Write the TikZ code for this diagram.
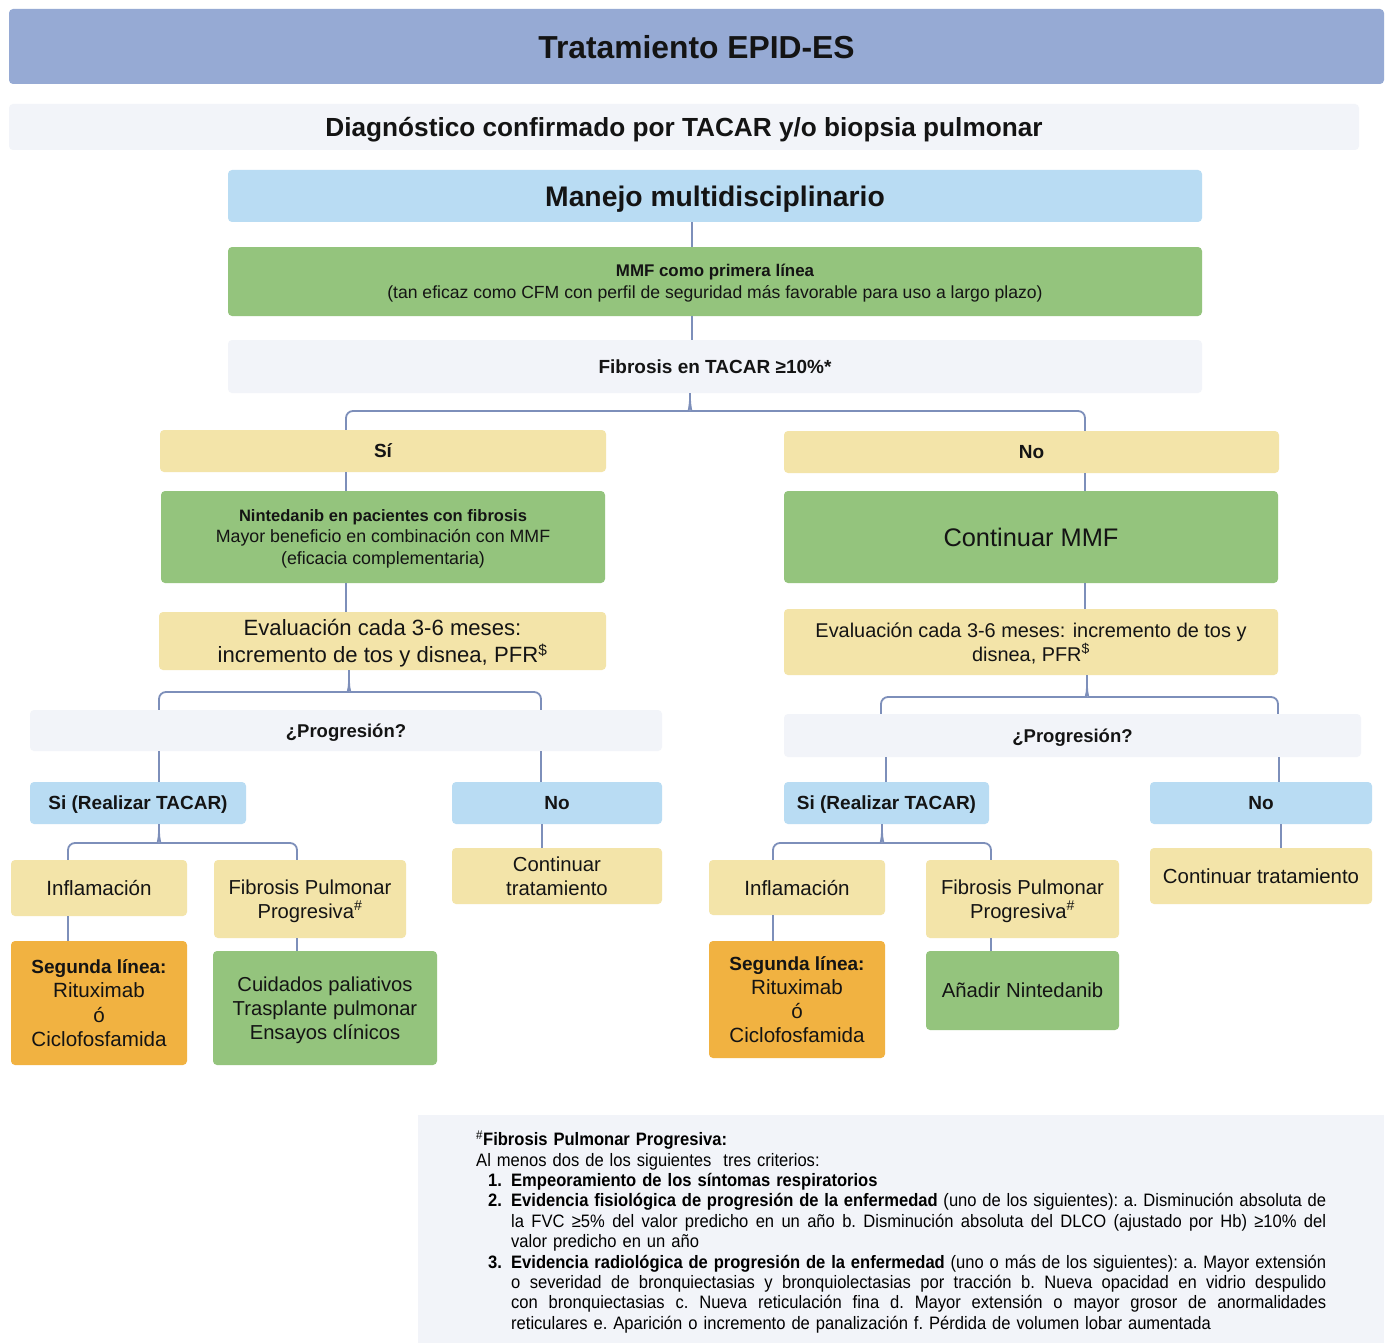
\documentclass[tikz,border=0pt]{standalone}
\usepackage{fontspec}
\setmainfont{Liberation Sans}
\newfontfamily\fnfont[FakeStretch=0.92]{Liberation Sans}
\usetikzlibrary{calc}
\definecolor{titlec}{RGB}{150,170,212}
\definecolor{grayc}{RGB}{242,244,249}
\definecolor{bluec}{RGB}{185,220,243}
\definecolor{greenc}{RGB}{148,196,125}
\definecolor{yellowc}{RGB}{243,228,169}
\definecolor{orangec}{RGB}{241,178,65}
\definecolor{linec}{RGB}{125,143,186}
\newcommand{\fsz}[2]{\fontsize{#1}{#2}\selectfont}
\newcommand{\jline}[1]{\hbox to 815pt{\spaceskip=\fontdimen2\font plus 1fil\relax #1}}
\tikzset{
  box/.style={rounded corners=4pt, inner sep=0pt, align=center, text=black!92, text depth=0pt},
  conn/.style={draw=linec, line width=1.8pt, rounded corners=7pt},
  tipline/.style={draw=linec, line width=1.8pt},
}
\begin{document}
\begin{tikzpicture}[x=1pt,y=-1pt]
\useasboundingbox[fill=white] (0,0) rectangle (1392,1343);
% x positions
\foreach \n/\v in {A/692,B/690,C/346,D/1085,E/349,F/159,G/541,H/1087,I/881,J/1278,K/886,L/1279,M/68,N/297,O/773,P/991,Q/542,R/1281,S/882}
  {\coordinate (X\n) at (\v,0);}
% header
\node[box, fill=titlec, minimum width=1375, minimum height=75, font=\bfseries\fsz{31.8}{36}] (title) at (696.5,46.5) {Tratamiento EPID-ES};
\node[box, fill=grayc, minimum width=1350, minimum height=46, font=\bfseries\fsz{26.2}{30}] (diag) at (684,127) {Diagnóstico confirmado por TACAR y/o biopsia pulmonar};
\node[box, fill=bluec, minimum width=974, minimum height=52, font=\bfseries\fsz{28.3}{32}] (manejo) at (715,196) {Manejo multidisciplinario};
\node[box, fill=greenc, minimum width=974, minimum height=69, font=\fsz{17.6}{22}] (mmf) at (715,281.5) {{\bfseries\fsz{16.9}{22}MMF como primera línea}\\(tan eficaz como CFM con perfil de seguridad más favorable para uso a largo plazo)};
\node[box, fill=grayc, minimum width=974, minimum height=53, font=\bfseries\fsz{19}{23}] (fib) at (715,366.5) {Fibrosis en TACAR ≥10\%*};
% Si / No
\node[box, fill=yellowc, minimum width=446, minimum height=42, font=\bfseries\fsz{19}{23}] (si) at (383,451) {Sí};
\node[box, fill=yellowc, minimum width=495, minimum height=42, font=\bfseries\fsz{19}{23}] (no) at (1031.5,452) {No};
\node[box, fill=greenc, minimum width=444, minimum height=92, font=\fsz{17.8}{21.5}] (nint) at (383,537) {{\bfseries\fsz{16.5}{21.5}Nintedanib en pacientes con fibrosis}\\Mayor beneficio en combinación con MMF\\(eficacia complementaria)};
\node[box, fill=greenc, minimum width=494, minimum height=92, font=\fsz{25.4}{28}] (cmmf) at (1031,537) {Continuar MMF};
\node[box, fill=yellowc, minimum width=447, minimum height=58, font=\fsz{22.1}{27}] (evalL) at (382.5,641) {Evaluación cada 3-6 meses:\\incremento de tos y disnea, PFR\textsuperscript{\$}};
\node[box, fill=yellowc, minimum width=494, minimum height=66, font=\fsz{19.9}{24}] (evalR) at (1031,642) {Evaluación cada 3-6 meses: incremento de tos y\\disnea, PFR\textsuperscript{\$}};
% Progresion
\node[box, fill=grayc, minimum width=632, minimum height=41, font=\bfseries\fsz{18.5}{23}] (progL) at (346,730.5) {¿Progresión?};
\node[box, fill=grayc, minimum width=577, minimum height=43, font=\bfseries\fsz{18.5}{23}] (progR) at (1072.5,735.5) {¿Progresión?};
\node[box, fill=bluec, minimum width=216, minimum height=42, font=\bfseries\fsz{19}{23}] (siL) at (138,803) {Si (Realizar TACAR)};
\node[box, fill=bluec, minimum width=210, minimum height=42, font=\bfseries\fsz{19}{23}] (noL) at (557,803) {No};
\node[box, fill=bluec, minimum width=205, minimum height=42, font=\bfseries\fsz{19}{23}] (siR) at (886.5,803) {Si (Realizar TACAR)};
\node[box, fill=bluec, minimum width=222, minimum height=42, font=\bfseries\fsz{19}{23}] (noR) at (1261,803) {No};
% lower level left
\node[box, fill=yellowc, minimum width=176, minimum height=56, font=\fsz{20.6}{24}] (inflL) at (99,888) {Inflamación};
\node[box, fill=yellowc, minimum width=192, minimum height=78, font=\fsz{20.2}{24}] (fppL) at (310,899) {Fibrosis Pulmonar\\Progresiva\textsuperscript{\#}};
\node[box, fill=yellowc, minimum width=210, minimum height=56, font=\fsz{20.3}{24}] (ctL) at (557,876) {Continuar\\tratamiento};
\node[box, fill=orangec, minimum width=176, minimum height=124, font=\fsz{20.6}{24.3}] (segL) at (99,1003) {{\bfseries\fsz{19}{24.3}Segunda línea:}\\Rituximab\\ó\\Ciclofosfamida};
\node[box, fill=greenc, minimum width=224, minimum height=114, font=\fsz{20.2}{24}] (cuid) at (325,1008) {Cuidados paliativos\\Trasplante pulmonar\\Ensayos clínicos};
% lower level right
\node[box, fill=yellowc, minimum width=176, minimum height=55, font=\fsz{20.6}{24}] (inflR) at (797,887.5) {Inflamación};
\node[box, fill=yellowc, minimum width=193, minimum height=78, font=\fsz{20.2}{24}] (fppR) at (1022.5,899) {Fibrosis Pulmonar\\Progresiva\textsuperscript{\#}};
\node[box, fill=yellowc, minimum width=222, minimum height=56, font=\fsz{20.4}{24}] (ctR) at (1261,876) {Continuar tratamiento};
\node[box, fill=orangec, minimum width=176, minimum height=117, font=\fsz{20.6}{24}] (segR) at (797,999.5) {{\bfseries\fsz{19}{24}Segunda línea:}\\Rituximab\\ó\\Ciclofosfamida};
\node[box, fill=greenc, minimum width=193, minimum height=79, font=\fsz{20.3}{24}] (anad) at (1022.5,990.5) {Añadir Nintedanib};
% footnote
\node[box, fill=grayc, rounded corners=0pt, minimum width=966, minimum height=228] (foot) at (901,1229) {};
\node[anchor=north west, inner sep=0pt, align=left, text width=900, font=\fnfont\frenchspacing\fsz{18}{20.4}] (fntext) at (476,1130.5) {%
\textsuperscript{\#}\textbf{Fibrosis Pulmonar Progresiva:}\\
Al menos dos de los siguientes\ \ tres criterios:\\
\hspace*{12pt}\makebox[23pt][l]{\textbf{1.}}\textbf{Empeoramiento de los síntomas respiratorios}\\
\hspace*{12pt}\makebox[23pt][l]{\textbf{2.}}\jline{\textbf{Evidencia fisiológica de progresión de la enfermedad} (uno de los siguientes): a. Disminución absoluta de}\\
\hspace*{35pt}\jline{la FVC ≥5\% del valor predicho en un año b. Disminución absoluta del DLCO (ajustado por Hb) ≥10\% del}\\
\hspace*{35pt}valor predicho en un año\\
\hspace*{12pt}\makebox[23pt][l]{\textbf{3.}}\jline{\textbf{Evidencia radiológica de progresión de la enfermedad} (uno o más de los siguientes): a. Mayor extensión}\\
\hspace*{35pt}\jline{o severidad de bronquiectasias y bronquiolectasias por tracción b. Nueva opacidad en vidrio despulido}\\
\hspace*{35pt}\jline{con bronquiectasias c. Nueva reticulación fina d. Mayor extensión o mayor grosor de anormalidades}\\
\hspace*{35pt}reticulares e. Aparición o incremento de panalización f. Pérdida de volumen lobar aumentada};
% connectors
\draw[conn] (manejo.south -| XA) -- (mmf.north -| XA);
\draw[conn] (mmf.south -| XA) -- (fib.north -| XA);
% brace 1
\coordinate (b1) at (690,398);
\draw[tipline] (fib.south -| XB) -- (b1);
\draw[conn] (si.north -| XC) |- ($(b1)+(-8,13)$) .. controls ($(b1)+(-2,13)$) and ($(b1)+(0,9)$) .. (b1);
\draw[conn] (no.north -| XD) |- ($(b1)+(8,13)$) .. controls ($(b1)+(2,13)$) and ($(b1)+(0,9)$) .. (b1);
\draw[conn] (si.south -| XC) -- (nint.north -| XC);
\draw[conn] (no.south -| XD) -- (cmmf.north -| XD);
\draw[conn] (nint.south -| XC) -- (evalL.north -| XC);
\draw[conn] (cmmf.south -| XD) -- (evalR.north -| XD);
% brace 2
\coordinate (b2) at (349,682);
\draw[tipline] (evalL.south -| XE) -- (b2);
\draw[conn] (progL.north -| XF) |- ($(b2)+(-8,10)$) .. controls ($(b2)+(-2,10)$) and ($(b2)+(0,7)$) .. (b2);
\draw[conn] (progL.north -| XG) |- ($(b2)+(8,10)$) .. controls ($(b2)+(2,10)$) and ($(b2)+(0,7)$) .. (b2);
% brace 3
\coordinate (b3) at (1087,687);
\draw[tipline] (evalR.south -| XH) -- (b3);
\draw[conn] (progR.north -| XI) |- ($(b3)+(-8,10)$) .. controls ($(b3)+(-2,10)$) and ($(b3)+(0,7)$) .. (b3);
\draw[conn] (progR.north -| XJ) |- ($(b3)+(8,10)$) .. controls ($(b3)+(2,10)$) and ($(b3)+(0,7)$) .. (b3);
\draw[conn] (progL.south -| XF) -- (siL.north -| XF);
\draw[conn] (progL.south -| XG) -- (noL.north -| XG);
\draw[conn] (progR.south -| XK) -- (siR.north -| XK);
\draw[conn] (progR.south -| XL) -- (noR.north -| XL);
% brace 4
\coordinate (b4) at (159,832);
\draw[tipline] (siL.south -| XF) -- (b4);
\draw[conn] (inflL.north -| XM) |- ($(b4)+(-8,11)$) .. controls ($(b4)+(-2,11)$) and ($(b4)+(0,7)$) .. (b4);
\draw[conn] (fppL.north -| XN) |- ($(b4)+(8,11)$) .. controls ($(b4)+(2,11)$) and ($(b4)+(0,7)$) .. (b4);
% brace 5
\coordinate (b5) at (882,832);
\draw[tipline] (siR.south -| XS) -- (b5);
\draw[conn] (inflR.north -| XO) |- ($(b5)+(-8,11)$) .. controls ($(b5)+(-2,11)$) and ($(b5)+(0,7)$) .. (b5);
\draw[conn] (fppR.north -| XP) |- ($(b5)+(8,11)$) .. controls ($(b5)+(2,11)$) and ($(b5)+(0,7)$) .. (b5);
\draw[conn] (noL.south -| XQ) -- (ctL.north -| XQ);
\draw[conn] (noR.south -| XR) -- (ctR.north -| XR);
\draw[conn] (inflL.south -| XM) -- (segL.north -| XM);
\draw[conn] (fppL.south -| XN) -- (cuid.north -| XN);
\draw[conn] (inflR.south -| XO) -- (segR.north -| XO);
\draw[conn] (fppR.south -| XP) -- (anad.north -| XP);
\end{tikzpicture}
\end{document}
